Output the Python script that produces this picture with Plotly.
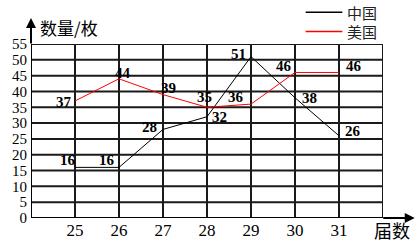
import plotly.graph_objects as go

years = [25, 26, 27, 28, 29, 30, 31]
china = [16, 16, 28, 32, 51, 38, 26]
usa = [37, 44, 39, 35, 36, 46, 46]
yticks = list(range(0, 56, 5))
series_names = ["中国", "美国"]
y_title = "数量/枚"
x_title = "届数"

# label placement styles (anchor, xshift px, yshift px)
china_lbl = [("right", 3, 7), ("right", -2, 7), ("right", -4, 2), ("left", 3, 0),
             ("right", -3, 3), ("left", 5, 0), ("left", 4, 5)]
usa_lbl = [("right", -1, -1), ("center", 4, 6), ("left", -4, 7), ("center", -3, 10),
           ("right", -5, 7), ("right", -1, 6), ("left", 5, 6)]

W, H = 419, 252
L, R, T, B = 28, 36, 44, 27

fig = go.Figure()
fig.add_trace(go.Scatter(x=years, y=china, mode="lines", line=dict(color="black", width=1),
                         name=series_names[0], showlegend=False))
fig.add_trace(go.Scatter(x=years, y=usa, mode="lines", line=dict(color="#ff0000", width=1),
                         name=series_names[1], showlegend=False))

lblfont = dict(family="Liberation Serif", size=15, color="black")
anns = []
for vals, styles in ((china, china_lbl), (usa, usa_lbl)):
    for xv, yv, (anc, xs, ys) in zip(years, vals, styles):
        anns.append(dict(x=xv, y=yv, xref="x", yref="y", text=f"<b>{yv}</b>", showarrow=False,
                         xanchor=anc, yanchor="middle", xshift=xs, yshift=ys, font=lblfont))

pw, ph = W - L - R, H - T - B
def px(xp):
    return (xp - L) / pw
def py(yp):
    return (H - B - yp) / ph

# axis arrows
anns.append(dict(x=0, y=py(17), xref="paper", yref="paper", ax=0, ay=27, axref="pixel", ayref="pixel",
                 showarrow=True, arrowhead=2, arrowsize=1, arrowwidth=2, arrowcolor="black", text=""))
anns.append(dict(x=px(415), y=0, xref="paper", yref="paper", ax=-33, ay=0,
                 showarrow=True, arrowhead=2, arrowsize=1, arrowwidth=2, arrowcolor="black", text=""))

cjk = "Noto Sans CJK SC"
anns.append(dict(x=px(35), y=py(27), xref="paper", yref="paper", text=y_title, showarrow=False,
                 xanchor="left", yanchor="middle", font=dict(family=cjk, size=17, color="black")))
anns.append(dict(x=px(372), y=py(238), xref="paper", yref="paper", text=x_title, showarrow=False,
                 xanchor="left", yanchor="middle", font=dict(family=cjk, size=18, color="black")))

shapes = []
legend_y = [11, 31]
legend_col = ["black", "#ff0000"]
for name, ly, c in zip(series_names, legend_y, legend_col):
    shapes.append(dict(type="line", xref="paper", yref="paper", x0=px(305), x1=px(342),
                       y0=py(ly), y1=py(ly), line=dict(color=c, width=1.5)))
    anns.append(dict(x=px(345), y=py(ly), xref="paper", yref="paper", text=name, showarrow=False,
                     xanchor="left", yanchor="middle", font=dict(family=cjk, size=15, color="#222")))

ytickfont = dict(family="Liberation Serif", size=15, color="black")
xtickfont = dict(family="Liberation Serif", size=17, color="black")
fig.update_layout(
    width=W, height=H, margin=dict(l=L, r=R, t=T, b=B),
    paper_bgcolor="white", plot_bgcolor="white",
    annotations=anns, shapes=shapes, showlegend=False,
    xaxis=dict(range=[24, 32], tickvals=years, ticktext=[str(v) for v in years], tickfont=xtickfont,
               showgrid=False, zeroline=False, showline=False, ticks="", fixedrange=True),
    yaxis=dict(range=[0, 55], tickvals=yticks, tickfont=ytickfont, showgrid=False, zeroline=False,
               showline=False, ticks="", fixedrange=True, ticklabelstandoff=3),
)
# grid (drawn as shapes in data coords from the tick arrays)
for v in yticks[1:]:
    fig.add_shape(type="line", xref="x", yref="y", x0=24, x1=32, y0=v, y1=v,
                  line=dict(color="#1a1a1a", width=2), layer="below")
for v in years + [32]:
    fig.add_shape(type="line", xref="x", yref="y", x0=v, x1=v, y0=0, y1=55,
                  line=dict(color="#1a1a1a", width=2), layer="below")
fig.add_shape(type="line", xref="x", yref="y", x0=24, x1=24, y0=0, y1=55,
              line=dict(color="black", width=2))
fig.add_shape(type="line", xref="x", yref="y", x0=24, x1=32, y0=0, y1=0,
              line=dict(color="black", width=2))

fig.write_html("out.html")
